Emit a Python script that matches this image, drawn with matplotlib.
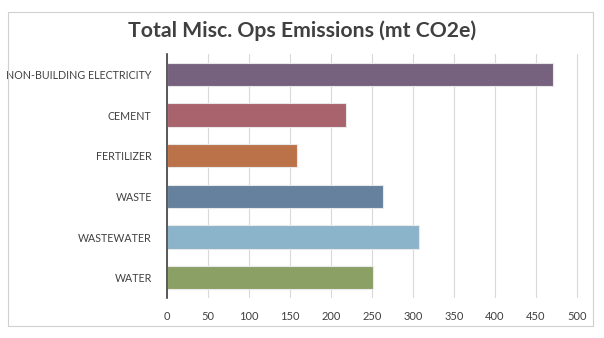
import matplotlib.pyplot as plt
from matplotlib.patches import Rectangle

categories = ['NON-BUILDING ELECTRICITY', 'CEMENT', 'FERTILIZER', 'WASTE', 'WASTEWATER', 'WATER']
emissions = [471, 218, 159, 264, 307, 251]
colors = ['#76627f', '#a8636d', '#bc7249', '#65819e', '#8bb3ca', '#8aa065']
xticks = list(range(0, 550, 50))

plt.rcParams['font.family'] = ['Lato', 'DejaVu Sans']

fig = plt.figure(figsize=(6.04, 3.38), dpi=100)
# chart border
fig.patches.append(Rectangle((8 / 604, 1 - 326 / 338), 585 / 604, 314 / 338,
                             transform=fig.transFigure, fill=False,
                             edgecolor='#d0d0d0', linewidth=0.8))

ax = fig.add_axes([0.2765, 0.1183, 0.6924, 0.7219])
ypos = list(range(len(categories)))
ax.barh(ypos, emissions, height=0.57, color=colors, edgecolor='#e8e8e8', linewidth=0.8, zorder=3)
ax.set_ylim(len(categories) - 0.5, -0.5)
ax.set_xlim(0, 510)
ax.set_yticks(ypos)
ax.set_yticklabels(categories, fontsize=7.7, color='#404040')
ax.set_xticks(xticks)
ax.set_xticklabels([str(t) for t in xticks], fontsize=8, color='#404040')
ax.tick_params(axis='y', length=0, pad=11)
ax.tick_params(axis='x', length=0, pad=9)
ax.grid(axis='x', color='#d9d9d9', linewidth=0.8, zorder=0)
for s in ['top', 'right', 'bottom']:
    ax.spines[s].set_visible(False)
ax.spines['left'].set_color('#404040')
ax.spines['left'].set_linewidth(1.2)
ax.spines['left'].set_zorder(4)

fig.text(0.5, 1 - 31 / 338, 'Total Misc. Ops Emissions (mt CO2e)', ha='center', va='center',
         fontsize=15.3, fontweight='bold', color='#404040')

plt.savefig('out.png', dpi=100)
